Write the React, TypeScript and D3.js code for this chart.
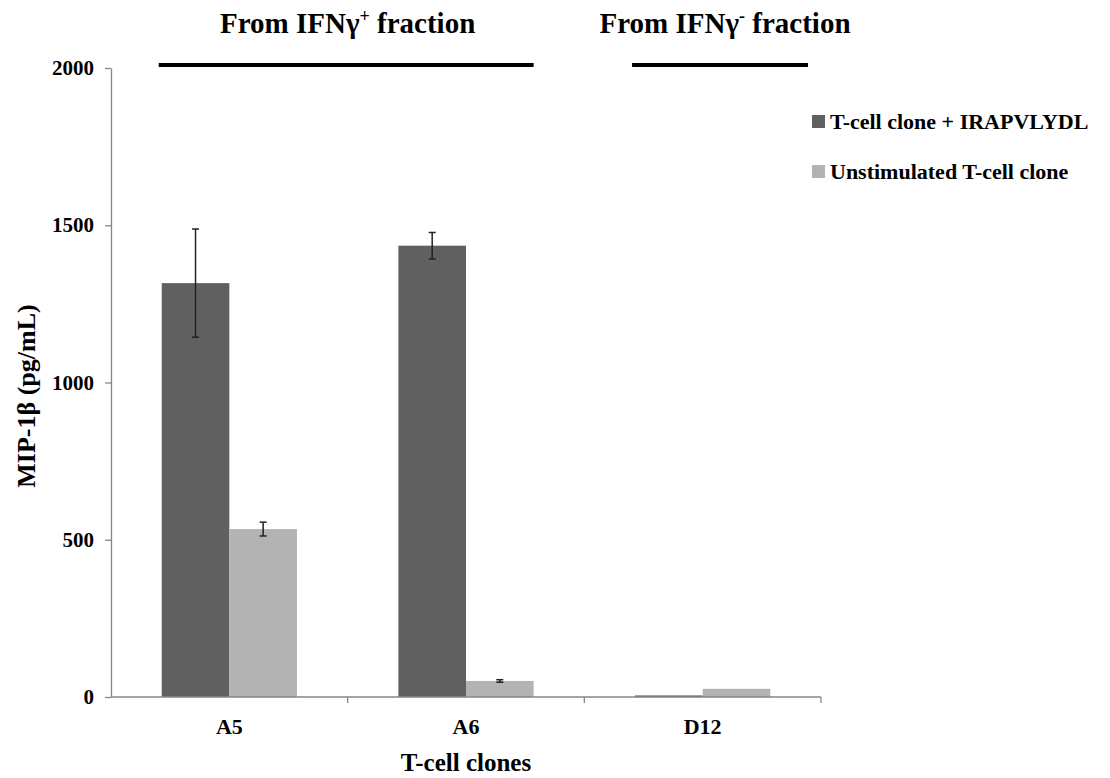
import { useEffect, useRef } from 'react';
import * as d3 from 'd3';

// values
const categories = ['A5', 'A6', 'D12'];
const seriesNames = ['T-cell clone + IRAPVLYDL', 'Unstimulated T-cell clone'];
const stimulated = [1316, 1435, 5];
const stimulatedErr = [172, 42, 0];
const unstimulated = [534, 51, 26];
const unstimulatedErr = [22, 4, 0];
const yTicks = [0, 500, 1000, 1500, 2000];
const seriesColors = ['#606060', '#b3b3b3'];

const fractionLabels = ['From IFNγ', 'From IFNγ'];
const fractionSigns = ['+', '-'];
const fractionFrom = ['A5', 'D12'];
const fractionTo = ['A6', 'D12'];

const FONT = "'Liberation Serif', 'Times New Roman', serif";

const App = () => {
    const svgRef = useRef<SVGSVGElement>(null);

    useEffect(() => {
        const width = 1110;
        const height = 778;
        const margin = { top: 68, right: 289, bottom: 81, left: 111 };

        const svg = d3.select(svgRef.current);
        svg.selectAll('*').remove();

        const x = d3
            .scaleBand<string>()
            .domain(categories)
            .range([margin.left, width - margin.right]);

        const inner = d3
            .scaleBand<number>()
            .domain([0, 1])
            .range([0, x.bandwidth()])
            .paddingOuter(0.75)
            .paddingInner(0);

        const y = d3
            .scaleLinear()
            .domain([0, 2000])
            .range([height - margin.bottom, margin.top]);

        // ---- y axis
        const yAxis = svg
            .append('g')
            .attr('transform', `translate(${margin.left},0)`)
            .call(
                d3
                    .axisLeft(y)
                    .tickValues(yTicks)
                    .tickFormat(d3.format('d'))
                    .tickSize(6)
                    .tickPadding(11)
                    .tickSizeOuter(0)
            );
        yAxis.select('.domain').attr('stroke', '#868686').attr('stroke-width', 1.3);
        yAxis.selectAll('.tick line').attr('stroke', '#868686').attr('stroke-width', 1.3);
        yAxis
            .selectAll('.tick text')
            .attr('fill', '#000')
            .style('font-family', FONT)
            .style('font-weight', 'bold')
            .style('font-size', '21px');

        // ---- bars
        const series = [
            { values: stimulated, errs: stimulatedErr },
            { values: unstimulated, errs: unstimulatedErr },
        ];

        series.forEach((s, si) => {
            const g = svg.append('g');
            g.selectAll('rect')
                .data(categories)
                .enter()
                .append('rect')
                .attr('x', (c) => (x(c) as number) + (inner(si) as number))
                .attr('y', (c, i) => y(s.values[i]))
                .attr('width', inner.bandwidth())
                .attr('height', (c, i) => y(0) - y(s.values[i]))
                .attr('fill', seriesColors[si]);
        });

        // ---- error bars
        series.forEach((s, si) => {
            const g = svg.append('g').attr('stroke', '#222').attr('stroke-width', 1.5);
            categories.forEach((c, i) => {
                if (!s.errs[i]) return;
                const cx = (x(c) as number) + (inner(si) as number) + inner.bandwidth() / 2;
                const lo = y(s.values[i] - s.errs[i]);
                const hi = y(s.values[i] + s.errs[i]);
                g.append('line').attr('x1', cx).attr('x2', cx).attr('y1', lo).attr('y2', hi);
                g.append('line').attr('x1', cx - 3.5).attr('x2', cx + 3.5).attr('y1', lo).attr('y2', lo);
                g.append('line').attr('x1', cx - 3.5).attr('x2', cx + 3.5).attr('y1', hi).attr('y2', hi);
            });
        });

        // ---- x axis
        const base = y(0);
        const xg = svg.append('g');
        xg.append('line')
            .attr('x1', margin.left)
            .attr('x2', width - margin.right)
            .attr('y1', base)
            .attr('y2', base)
            .attr('stroke', '#868686')
            .attr('stroke-width', 1.3);
        categories.forEach((c) => {
            const bx = (x(c) as number) + x.bandwidth();
            xg.append('line')
                .attr('x1', bx)
                .attr('x2', bx)
                .attr('y1', base)
                .attr('y2', base + 6)
                .attr('stroke', '#868686')
                .attr('stroke-width', 1.3);
        });
        xg.selectAll('text')
            .data(categories)
            .enter()
            .append('text')
            .attr('x', (c) => (x(c) as number) + x.bandwidth() / 2)
            .attr('y', 734)
            .attr('text-anchor', 'middle')
            .style('font-family', FONT)
            .style('font-weight', 'bold')
            .style('font-size', '22px')
            .text((c) => c);

        // ---- axis titles
        svg.append('text')
            .attr('x', (x('A6') as number) + x.bandwidth() / 2)
            .attr('y', 771)
            .attr('text-anchor', 'middle')
            .style('font-family', FONT)
            .style('font-weight', 'bold')
            .style('font-size', '25px')
            .text('T-cell clones');

        svg.append('text')
            .attr('transform', `translate(35,396) rotate(-90)`)
            .attr('text-anchor', 'middle')
            .style('font-family', FONT)
            .style('font-weight', 'bold')
            .style('font-size', '26px')
            .text('MIP-1β (pg/mL)');

        // ---- fraction annotations
        fractionLabels.forEach((label, i) => {
            const x1 = (x(fractionFrom[i]) as number) + inner(0)! - 3;
            const x2 =
                i === 0
                    ? (x(fractionTo[i]) as number) + (inner(1) as number) + inner.bandwidth()
                    : (x(fractionTo[i]) as number) + x.bandwidth() - 13;
            svg.append('line')
                .attr('x1', x1)
                .attr('x2', x2)
                .attr('y1', 65)
                .attr('y2', 65)
                .attr('stroke', '#000')
                .attr('stroke-width', 4);
            const cx = i === 0 ? (x('A6') as number) : (x1 + x2) / 2 + 5;
            const t = svg
                .append('text')
                .attr('x', cx)
                .attr('y', 33)
                .attr('text-anchor', 'middle')
                .style('font-family', FONT)
                .style('font-weight', 'bold')
                .style('font-size', '29px');
            t.append('tspan').text(label);
            t.append('tspan')
                .attr('dy', -11)
                .style('font-size', '18px')
                .text(fractionSigns[i]);
            t.append('tspan').attr('dy', 11).text(' fraction');
        });

        // ---- legend
        const lg = svg.append('g').attr('transform', 'translate(812,0)');
        seriesNames.forEach((name, i) => {
            const ly = 122 + i * 50;
            lg.append('rect')
                .attr('x', 0)
                .attr('y', ly - 7)
                .attr('width', 13)
                .attr('height', 13)
                .attr('fill', seriesColors[i]);
            lg.append('text')
                .attr('x', 18)
                .attr('y', ly + 7)
                .style('font-family', FONT)
                .style('font-weight', 'bold')
                .style('font-size', '22px')
                .text(name);
        });
    }, []);

    return (
        <svg
            ref={svgRef}
            width={1110}
            height={778}
            style={{ position: 'absolute', left: 0, top: 0, background: '#fff' }}
        />
    );
};

export default App;
